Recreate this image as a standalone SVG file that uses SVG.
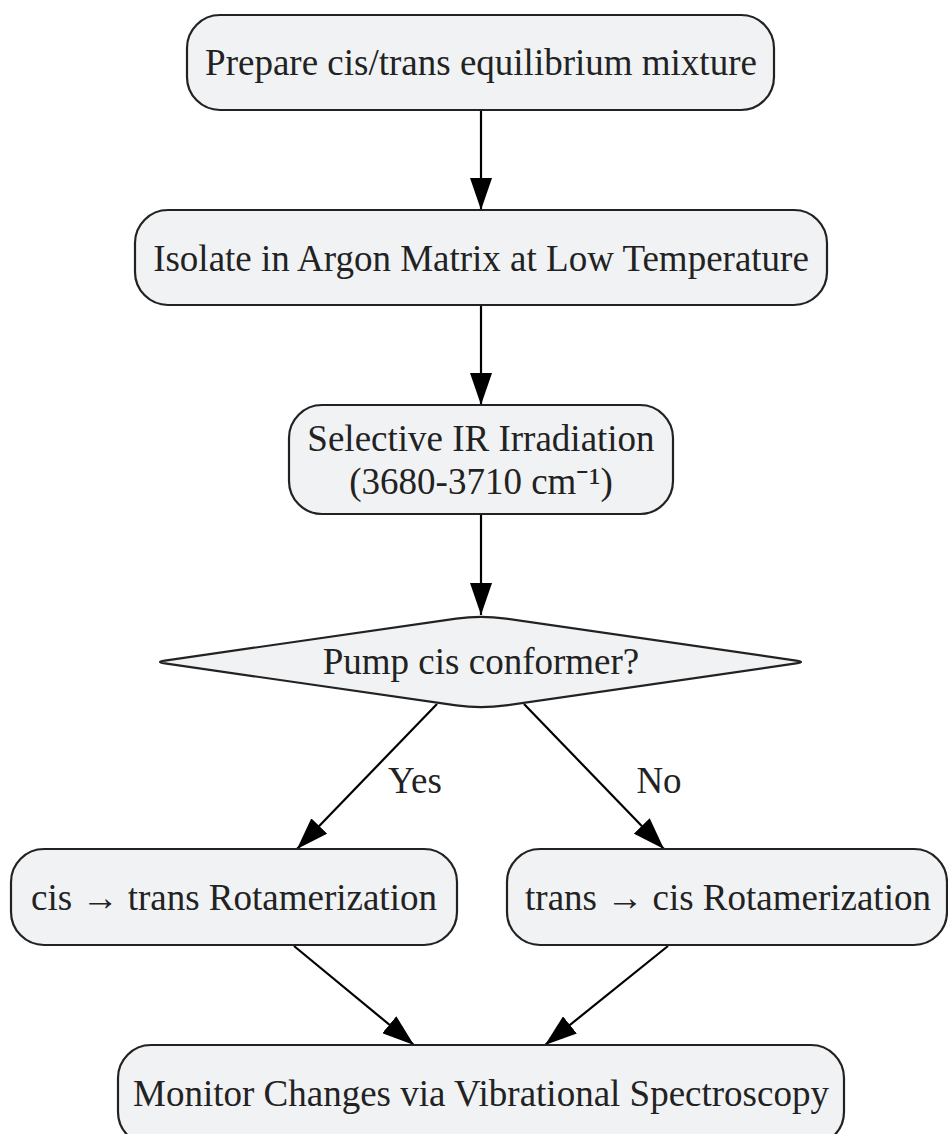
<svg xmlns="http://www.w3.org/2000/svg" width="948" height="1134" viewBox="0 0 948 1134">
<style>
.n{fill:#f1f2f4;stroke:#222;stroke-width:2.2}
.t{font-family:"Liberation Serif","Times New Roman",serif;font-size:37px;fill:#222;text-anchor:middle}
.e{stroke:#000;stroke-width:2.2;fill:none}
</style>
<defs>
<marker id="ah" viewBox="0 0 32 22" refX="32" refY="11" markerWidth="32" markerHeight="22" markerUnits="userSpaceOnUse" orient="auto">
<path d="M0,0 L32,11 L0,22 Z" fill="#000"/>
</marker>
</defs>
<rect width="948" height="1134" fill="#fff"/>
<g id="connectors">
<line class="e" x1="481" y1="110" x2="481" y2="210" marker-end="url(#ah)"/>
<line class="e" x1="481" y1="305" x2="481" y2="405" marker-end="url(#ah)"/>
<line class="e" x1="481" y1="514" x2="481" y2="615" marker-end="url(#ah)"/>
<line class="e" x1="437" y1="704" x2="297" y2="849" marker-end="url(#ah)"/>
<line class="e" x1="524" y1="704" x2="664" y2="849" marker-end="url(#ah)"/>
<line class="e" x1="294" y1="946" x2="414" y2="1045" marker-end="url(#ah)"/>
<line class="e" x1="668" y1="946" x2="545" y2="1045" marker-end="url(#ah)"/>
<text class="t" x="415" y="793">Yes</text>
<text class="t" x="659" y="793">No</text>
</g>
<g id="prepare">
<rect class="n" x="187" y="15" width="587" height="95" rx="33"/>
<text class="t" x="481" y="75">Prepare cis/trans equilibrium mixture</text>
</g>
<g id="isolate">
<rect class="n" x="135" y="210" width="692" height="95" rx="33"/>
<text class="t" x="481" y="271">Isolate in Argon Matrix at Low Temperature</text>
</g>
<g id="irradiation">
<rect class="n" x="289" y="405" width="384" height="109" rx="33"/>
<text class="t" x="481" y="451">Selective IR Irradiation</text>
<text class="t" x="481" y="494">(3680-3710 cm⁻¹)</text>
</g>
<g id="decision">
<path class="n" d="M164.9,660.6 L456.2,618.6 Q481,615 505.8,618.6 L796.1,660.6 Q806,662 796.1,663.4 L505.8,705.4 Q481,709 456.2,705.4 L164.9,663.4 Q155,662 164.9,660.6 Z"/>
<text class="t" x="481" y="674">Pump cis conformer?</text>
</g>
<g id="cistrans">
<rect class="n" x="11" y="849" width="446" height="96" rx="33"/>
<text class="t" x="234" y="910">cis → trans Rotamerization</text>
</g>
<g id="transcis">
<rect class="n" x="507" y="849" width="440" height="96" rx="33"/>
<text class="t" x="728" y="910">trans → cis Rotamerization</text>
</g>
<g id="monitor">
<rect class="n" x="118" y="1045" width="726" height="100" rx="33"/>
<text class="t" x="481" y="1106">Monitor Changes via Vibrational Spectroscopy</text>
</g>
</svg>
